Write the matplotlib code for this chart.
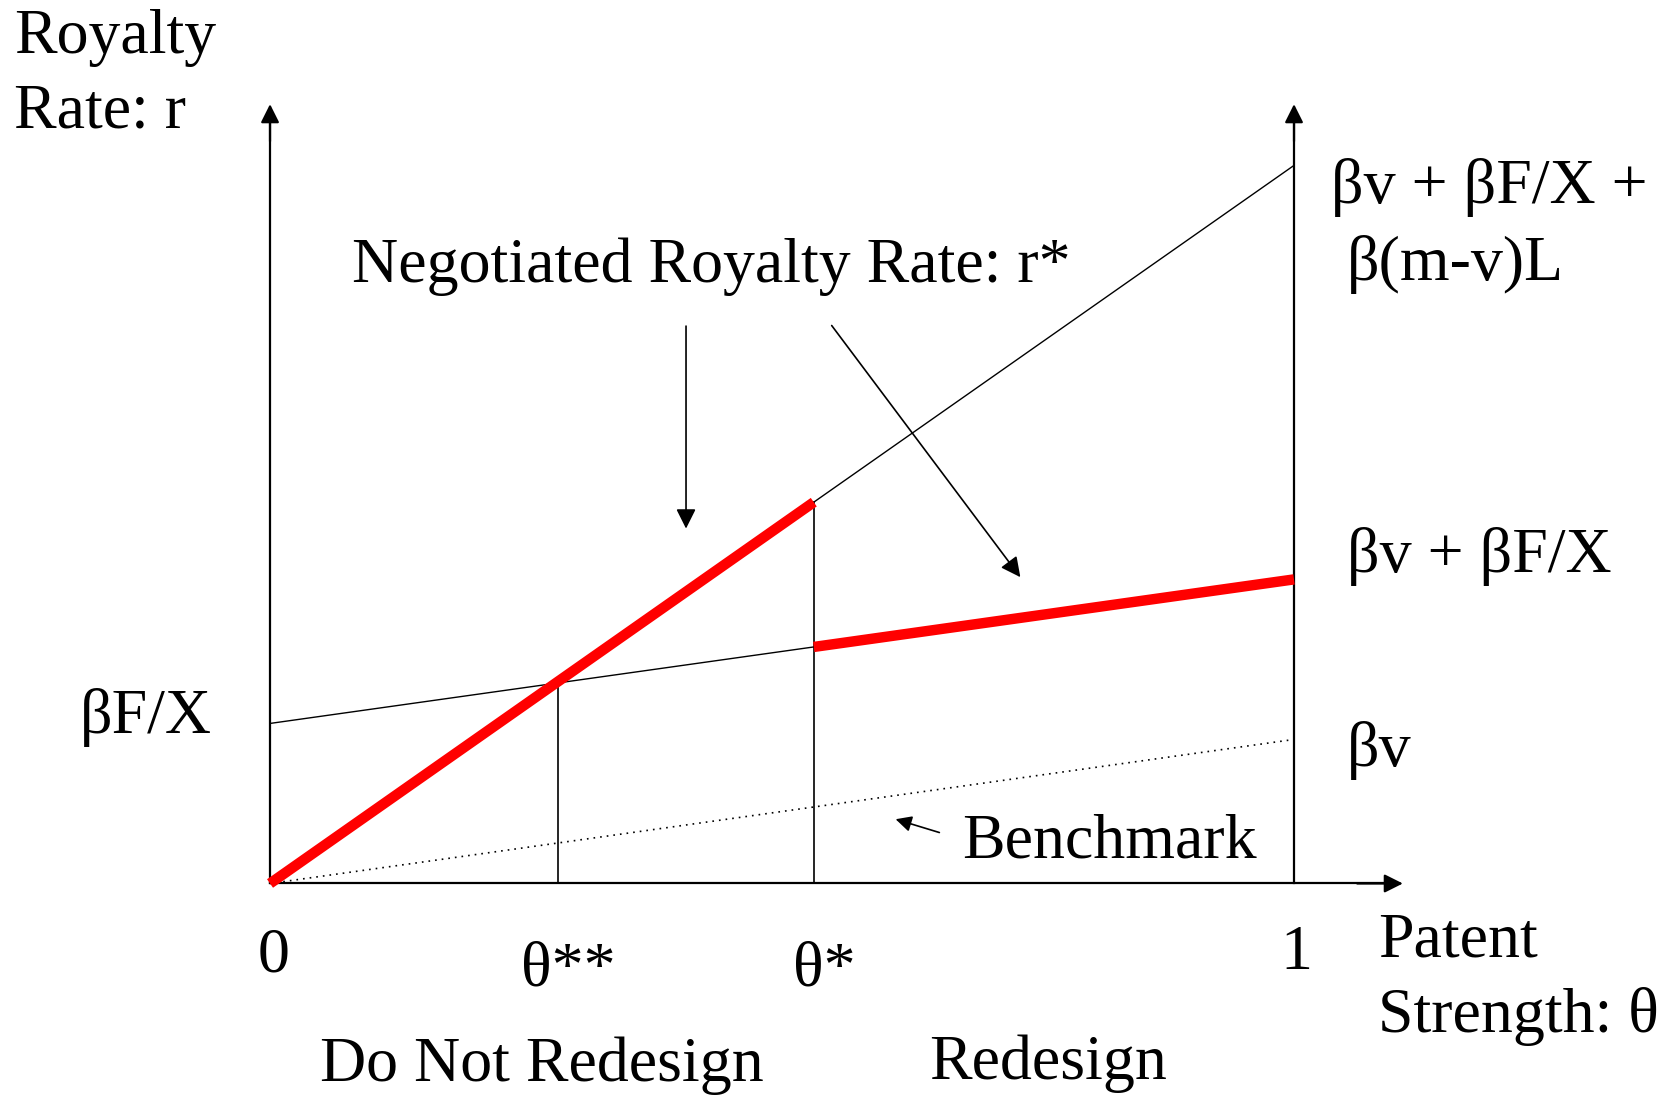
import numpy as np
import matplotlib.pyplot as plt

# model values (vertical units ~ 100 px of the original drawing)
theta_2star = 0.281
theta_star = 0.531
bFX = 1.50        # intercept beta F / X
bv = 1.35         # slope of benchmark beta v
steep_top = 6.73  # bv + bFX + b(m-v)L at theta = 1
y_axis_top = 7.33
x_axis_end = 1.109

plt.rcParams['font.family'] = ['Liberation Serif', 'DejaVu Serif']
FS = 46

fig = plt.figure(figsize=(16.73, 10.97), dpi=100)
ax = fig.add_axes([0, 0, 1, 1])
ax.set_xlim(-0.2637, 1.3701)
ax.set_ylim(-2.001, 8.280)
ax.axis('off')


def pos(xs, ys):
    # position from the shrunk-reference pixel grid to data coords
    return ((xs - 253) / 960.0, (828 - ys) / 100.0)


def steep(t):
    return steep_top * np.asarray(t)


def middle(t):
    return bFX + bv * np.asarray(t)


def bench(t):
    return bv * np.asarray(t)


# axes with arrowheads
ax.plot([0, x_axis_end - 0.02], [0, 0], color='black', lw=1.6)
ax.annotate('', xy=(x_axis_end, 0), xytext=(x_axis_end - 0.05, 0),
            arrowprops=dict(arrowstyle='-|>', color='black', lw=1.6, mutation_scale=28))
for xv in [0, 1]:
    ax.plot([xv, xv], [0, y_axis_top - 0.1], color='black', lw=1.6)
    ax.annotate('', xy=(xv, y_axis_top), xytext=(xv, y_axis_top - 0.4),
                arrowprops=dict(arrowstyle='-|>', color='black', lw=1.6, mutation_scale=28))

# thin lines
t1 = np.array([theta_star, 1.0])
ax.plot(t1, steep(t1), color='black', lw=1.0)
t2 = np.array([0.0, theta_star])
ax.plot(t2, middle(t2), color='black', lw=1.0)
t3 = np.array([0.0, 1.0])
ax.plot(t3, bench(t3), color='black', lw=1.2, linestyle=(0, (1, 3)))

# vertical guides
ax.plot([theta_2star, theta_2star], [0, middle(theta_2star)], color='black', lw=1.2)
ax.plot([theta_star, theta_star], [0, steep(theta_star)], color='black', lw=1.2)

# negotiated royalty rate r*
ax.plot(t2, steep(t2), color='red', lw=7.5, solid_capstyle='butt')
ax.plot(t1, middle(t1), color='red', lw=7.5, solid_capstyle='butt')

# annotation arrows
ap = dict(arrowstyle='-|>', color='black', lw=1.2, mutation_scale=30)
ax.annotate('', xy=pos(643, 498), xytext=pos(643, 303), arrowprops=ap)
ax.annotate('', xy=pos(958, 543), xytext=pos(778, 303), arrowprops=ap)
ax.annotate('', xy=pos(837, 767), xytext=pos(883, 781),
            arrowprops=dict(arrowstyle='-|>', color='black', lw=1.2, mutation_scale=24))

# texts
texts = [
    ("Royalty", 13, 36, 'left'),
    ("Rate: r", 13, 105, 'left'),
    ("Negotiated Royalty Rate: r*", 330, 250, 'left'),
    ("\u03b2F/X", 75, 672, 'left'),
    ("Benchmark", 902, 790, 'left'),
    ("\u03b2v + \u03b2F/X +", 1248, 176, 'left'),
    ("\u03b2(m-v)L", 1263, 248, 'left'),
    ("\u03b2v + \u03b2F/X", 1263, 522, 'left'),
    ("\u03b2v", 1263, 703, 'left'),
    ("0", 256, 896, 'center'),
    ("\u03b8**", 533, 910, 'center'),
    ("\u03b8*", 773, 910, 'center'),
    ("1", 1215, 894, 'center'),
    ("Patent", 1292, 882, 'left'),
    ("Strength: \u03b8", 1292, 953, 'left'),
    ("Do Not Redesign", 508, 999, 'center'),
    ("Redesign", 982, 997, 'center'),
]
for s, xs, ys, ha in texts:
    ax.text(*pos(xs, ys), s, fontsize=FS, ha=ha, va='center')

plt.savefig("out.png", dpi=100)
